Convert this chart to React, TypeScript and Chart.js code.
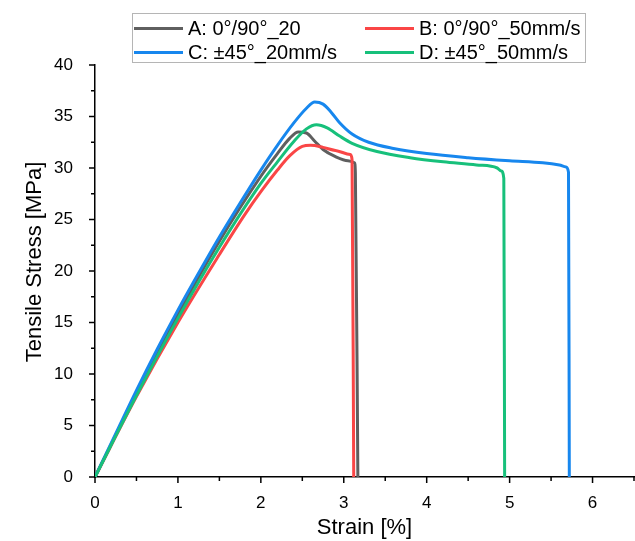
import React, { useEffect, useRef } from "react";
import { Chart, registerables } from "chart.js";

Chart.register(...registerables);

// Strain [%] / Tensile stress [MPa]
const strainA = [0, 0.5, 1.0, 1.5, 2.0, 2.2, 2.35, 2.45, 2.55, 2.65, 2.75, 2.9, 3.05, 3.13, 3.14, 3.17];
const stressA = [0, 8.1, 15.8, 22.9, 29.2, 31.4, 32.9, 33.5, 33.4, 32.6, 31.8, 31.1, 30.7, 30.5, 29.5, 0];

const strainB = [0, 0.5, 1.0, 1.5, 1.8, 2.0, 2.2, 2.35, 2.5, 2.6, 2.75, 2.9, 3.08, 3.1, 3.12];
const stressB = [0, 7.8, 15.0, 21.6, 25.4, 27.7, 29.8, 31.2, 32.1, 32.2, 32.0, 31.7, 31.3, 30.8, 0];

const strainC = [0, 0.25, 0.5, 0.75, 1.0, 1.25, 1.5, 1.75, 2.0, 2.2, 2.4, 2.55, 2.65, 2.75, 2.85, 2.95, 3.1, 3.3, 3.6, 4.0, 4.5, 5.0, 5.4, 5.6, 5.68, 5.71, 5.72];
const stressC = [0, 4.2, 8.4, 12.4, 16.2, 19.8, 23.3, 26.6, 29.8, 32.2, 34.4, 35.8, 36.4, 36.2, 35.4, 34.4, 33.3, 32.5, 31.9, 31.4, 31.0, 30.7, 30.5, 30.3, 30.1, 29.6, 0];

const strainD = [0, 0.5, 1.0, 1.5, 2.0, 2.2, 2.4, 2.55, 2.67, 2.8, 2.95, 3.1, 3.4, 3.8, 4.2, 4.6, 4.85, 4.9, 4.93, 4.94];
const stressD = [0, 7.9, 15.4, 22.3, 28.5, 30.6, 32.6, 33.8, 34.2, 33.9, 33.1, 32.4, 31.6, 31.0, 30.6, 30.3, 30.0, 29.7, 29.0, 0];

const seriesLabels = ["A: 0°/90°_20", "B: 0°/90°_50mm/s", "C: ±45°_20mm/s", "D: ±45°_50mm/s"];
const seriesColors = ["#5f5f5f", "#fa4646", "#1787ee", "#17c07b"];

const xTitle = "Strain [%]";
const yTitle = "Tensile Stress [MPa]";
const xMin = 0, xMax = 6.5, xStep = 0.5;
const yMin = 0, yMax = 40, yStep = 2.5;

const FONT = "'Liberation Sans', Arial, sans-serif";

function pts(xs: number[], ys: number[]) {
  return xs.map((x, i) => ({ x, y: ys[i] }));
}

const tickMarks = {
  id: "tickMarks",
  afterDraw(chart: any) {
    const { ctx, chartArea } = chart;
    const xs = chart.scales.x;
    const ys = chart.scales.y;
    ctx.save();
    ctx.strokeStyle = "#000";
    ctx.lineWidth = 1.5;
    xs.ticks.forEach((t: any) => {
      const px = xs.getPixelForValue(t.value);
      const major = Math.abs(t.value - Math.round(t.value)) < 1e-6;
      const len = major ? 6 : 4;
      ctx.beginPath();
      ctx.moveTo(px, chartArea.bottom);
      ctx.lineTo(px, chartArea.bottom + len);
      ctx.stroke();
    });
    ys.ticks.forEach((t: any) => {
      const py = ys.getPixelForValue(t.value);
      const major = Math.abs(t.value / 5 - Math.round(t.value / 5)) < 1e-6;
      const len = major ? 6 : 4;
      ctx.beginPath();
      ctx.moveTo(chartArea.left, py);
      ctx.lineTo(chartArea.left - len, py);
      ctx.stroke();
    });
    // y-axis title
    ctx.translate(35, (chartArea.top + chartArea.bottom) / 2 - 9);
    ctx.rotate(-Math.PI / 2);
    ctx.fillStyle = "#000";
    ctx.font = `22px ${FONT}`;
    ctx.textAlign = "center";
    ctx.textBaseline = "middle";
    ctx.fillText(yTitle, 0, 0);
    ctx.restore();
  },
};

export default function App() {
  const ref = useRef<HTMLCanvasElement | null>(null);

  useEffect(() => {
    if (!ref.current) return;
    const data = [pts(strainA, stressA), pts(strainB, stressB), pts(strainC, stressC), pts(strainD, stressD)];
    const chart = new Chart(ref.current, {
      type: "line",
      data: {
        datasets: data.map((d, i) => ({
          label: seriesLabels[i],
          data: d,
          borderColor: seriesColors[i],
          backgroundColor: seriesColors[i],
          borderWidth: 3,
          pointRadius: 0,
          fill: false,
          cubicInterpolationMode: "monotone" as const,
          order: 3 - i,
        })),
      },
      options: {
        animation: false,
        responsive: true,
        maintainAspectRatio: false,
        layout: { padding: { top: 65, right: 1, left: 0, bottom: 0 } },
        plugins: { legend: { display: false }, tooltip: { enabled: false } },
        scales: {
          x: {
            type: "linear",
            min: xMin,
            max: xMax,
            grid: { display: false },
            border: { display: true, color: "#000", width: 1.5 },
            ticks: {
              stepSize: xStep,
              padding: 8,
              color: "#000",
              font: { family: FONT, size: 17 },
              maxRotation: 0,
              autoSkip: false,
              callback: (v: any) => (Math.abs(v - Math.round(v)) < 1e-6 ? String(Math.round(v)) : ""),
            },
            title: {
              display: true,
              text: xTitle,
              color: "#000",
              font: { family: FONT, size: 22 },
              padding: { top: 0, bottom: 0 },
            },
            afterFit: (s: any) => {
              s.height = 64;
              s.paddingLeft = 0;
              s.paddingRight = 0;
            },
          },
          y: {
            type: "linear",
            min: yMin,
            max: yMax,
            grid: { display: false },
            border: { display: true, color: "#000", width: 1.5 },
            ticks: {
              stepSize: yStep,
              padding: 14,
              color: "#000",
              font: { family: FONT, size: 17 },
              autoSkip: false,
              callback: (v: any) => (Math.abs(v / 5 - Math.round(v / 5)) < 1e-6 ? String(Math.round(v)) : ""),
            },
            title: { display: false, text: yTitle },
            afterFit: (s: any) => { s.width = 95; },
          },
        },
      },
      plugins: [tickMarks],
    });
    return () => chart.destroy();
  }, []);

  const legendItem = (i: number, left: number, top: number) => (
    <div key={i} style={{ position: "absolute", left, top, display: "flex", alignItems: "center", whiteSpace: "nowrap" }}>
      <span style={{ display: "inline-block", width: 49, height: 3, background: seriesColors[i], marginRight: 5 }} />
      <span style={{ fontFamily: FONT, fontSize: 20, color: "#000", lineHeight: "22px" }}>{seriesLabels[i]}</span>
    </div>
  );

  return (
    <div style={{ position: "fixed", left: 0, top: 0, width: 635, height: 541, background: "#fff" }}>
      <canvas ref={ref} />
      <div
        style={{
          position: "absolute",
          left: 132,
          top: 13,
          width: 452,
          height: 48,
          border: "1.5px solid #b5b5b5",
          background: "#fff",
        }}
      >
        {legendItem(0, 1, 3)}
        {legendItem(1, 232, 3)}
        {legendItem(2, 1, 27)}
        {legendItem(3, 232, 27)}
      </div>
    </div>
  );
}
